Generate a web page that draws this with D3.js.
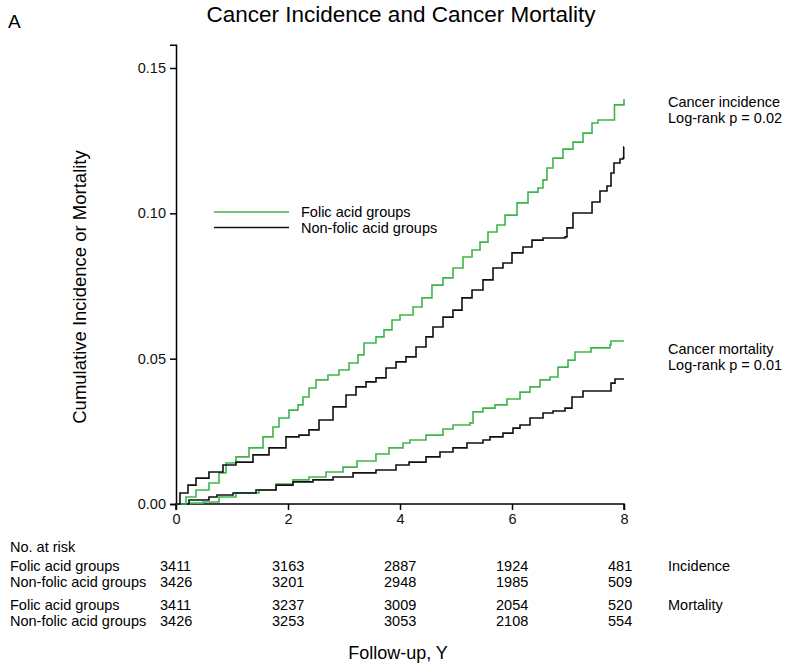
<!DOCTYPE html>
<html>
<head>
<meta charset="utf-8">
<script src="https://cdn.jsdelivr.net/npm/d3@7/dist/d3.min.js"></script>
<style>
  html, body { margin: 0; padding: 0; background: #fff; }
  svg { display: block; font-family: "Liberation Sans", Arial, sans-serif; }
</style>
</head>
<body>
<svg id="chart" width="788" height="667"></svg>
<script>
// Cumulative curves: [years, cumulative proportion]
const folicIncidence = [
  [0,0],[0.179,0.0024],[0.357,0.0048],[0.589,0.0072],[0.768,0.0107],[0.893,0.0141],
  [1.071,0.0162],[1.304,0.0193],[1.554,0.0231],[1.732,0.0265],[1.839,0.0296],[2.018,0.0323],
  [2.179,0.0341],[2.268,0.0368],[2.375,0.0399],[2.5,0.0427],[2.714,0.0444],[2.911,0.0461],
  [3.089,0.0485],[3.25,0.0513],[3.357,0.0554],[3.571,0.0575],[3.714,0.0599],[3.857,0.0633],
  [4.0,0.0650],[4.232,0.0678],[4.393,0.0709],[4.571,0.0753],[4.768,0.0778],[4.946,0.0812],
  [5.125,0.0850],[5.286,0.0874],[5.429,0.0901],[5.571,0.0936],[5.732,0.0960],[5.875,0.0994],
  [6.089,0.1036],[6.286,0.1073],[6.464,0.1087],[6.554,0.1115],[6.625,0.1156],[6.732,0.1190],
  [6.911,0.1221],[7.089,0.1245],[7.268,0.1276],[7.429,0.1311],[7.536,0.1321],[7.804,0.1321],
  [7.83,0.1373],[7.982,0.1373],[8,0.1393]
];
const nonFolicIncidence = [
  [0,0],[0.071,0.0038],[0.214,0.0065],[0.357,0.0089],[0.589,0.0110],[0.839,0.0134],
  [1.071,0.0144],[1.375,0.0169],[1.661,0.0193],[1.964,0.0231],[2.196,0.0237],[2.375,0.0255],
  [2.554,0.0289],[2.804,0.0334],[3.036,0.0375],[3.214,0.0403],[3.393,0.0420],[3.571,0.0434],
  [3.75,0.0468],[3.929,0.0489],[4.107,0.0506],[4.286,0.0540],[4.464,0.0575],[4.589,0.0609],
  [4.768,0.0643],[4.946,0.0667],[5.107,0.0709],[5.286,0.0736],[5.482,0.0771],[5.661,0.0812],
  [5.839,0.0829],[6.0,0.0864],[6.196,0.0884],[6.357,0.0908],[6.554,0.0915],[6.946,0.0919],
  [6.982,0.0950],[7.089,0.1001],[7.304,0.1001],[7.429,0.1039],[7.571,0.1077],[7.696,0.1094],
  [7.768,0.1139],[7.821,0.1173],[7.929,0.1187],[7.982,0.1190],[7.995,0.1228],[8,0.1228]
];
const folicMortality = [
  [0,0],[0.25,0.0003],[0.482,0.0007],[0.768,0.0024],[1.071,0.0038],[1.482,0.0048],
  [1.786,0.0069],[2.089,0.0083],[2.375,0.0093],[2.679,0.0110],[2.982,0.0127],[3.232,0.0148],
  [3.571,0.0172],[3.804,0.0193],[4.054,0.0210],[4.179,0.0220],[4.464,0.0237],[4.768,0.0258],
  [4.946,0.0272],[5.25,0.0279],[5.304,0.0317],[5.482,0.0330],[5.696,0.0341],[5.911,0.0361],
  [6.143,0.0385],[6.321,0.0403],[6.5,0.0427],[6.679,0.0437],[6.821,0.0471],[7.0,0.0495],
  [7.125,0.0523],[7.393,0.0523],[7.411,0.0537],[7.75,0.0547],[7.768,0.0561],[8,0.0561]
];
const nonFolicMortality = [
  [0,0],[0.232,0.0014],[0.589,0.0024],[0.732,0.0031],[1.018,0.0038],[1.429,0.0048],
  [1.786,0.0065],[2.089,0.0076],[2.446,0.0083],[2.804,0.0093],[3.161,0.0107],[3.571,0.0117],
  [3.929,0.0134],[4.161,0.0144],[4.464,0.0162],[4.714,0.0179],[4.946,0.0193],[5.196,0.0210],
  [5.482,0.0220],[5.607,0.0231],[5.839,0.0244],[6.018,0.0261],[6.143,0.0272],[6.321,0.0296],
  [6.554,0.0313],[6.732,0.0320],[6.946,0.0330],[7.071,0.0368],[7.268,0.0389],[7.714,0.0389],
  [7.768,0.0416],[7.839,0.0430],[8,0.0430]
];

const xTicks = [0, 2, 4, 6, 8];
const yTicks = [0, 0.05, 0.10, 0.15];
const groupNames = ["Folic acid groups", "Non-folic acid groups"];

// Numbers at risk at each x tick
const riskFolicIncidence = [3411, 3163, 2887, 1924, 481];
const riskNonFolicIncidence = [3426, 3201, 2948, 1985, 509];
const riskFolicMortality = [3411, 3237, 3009, 2054, 520];
const riskNonFolicMortality = [3426, 3253, 3053, 2108, 554];

const GREEN = "#3db54a";
const BLACK = "#111";

const svg = d3.select("#chart");
const x = d3.scaleLinear().domain([0, 8]).range([176, 624]);
const y = d3.scaleLinear().domain([0, 0.158]).range([504, 44.75]);

// Title and panel letter
svg.append("text").attr("x", 8).attr("y", 28).attr("font-size", 19).text("A");
svg.append("text").attr("x", 401).attr("y", 22).attr("text-anchor", "middle")
  .attr("font-size", 22.5).text("Cancer Incidence and Cancer Mortality");

// Axes
const xAxis = svg.append("g").attr("transform", "translate(0,504)")
  .call(d3.axisBottom(x).tickValues(xTicks).tickSize(6).tickPadding(4).tickFormat(d3.format("d")));
const yAxis = svg.append("g").attr("transform", "translate(176,0)")
  .call(d3.axisLeft(y).tickValues(yTicks).tickSize(6).tickPadding(4).tickFormat(d3.format(".2f")));
[xAxis, yAxis].forEach(g => {
  g.select(".domain").attr("stroke", "#000").attr("stroke-width", 1.5);
  g.selectAll(".tick line").attr("stroke", "#000").attr("stroke-width", 1.5);
  g.selectAll(".tick text").attr("font-size", 14.5).attr("fill", "#111")
    .attr("font-family", "Liberation Sans, Arial, sans-serif");
});
xAxis.select(".domain").attr("d", `M${x(0)},6V0H${x(8)}V6`);

// Axis titles
svg.append("text").attr("transform", "translate(86,287) rotate(-90)")
  .attr("text-anchor", "middle").attr("font-size", 18.5).text("Cumulative Incidence or Mortality");
svg.append("text").attr("x", 398).attr("y", 659).attr("text-anchor", "middle")
  .attr("font-size", 18).text("Follow-up, Y");

// Cumulative (step) curves
const line = d3.line().x(d => x(d[0])).y(d => y(d[1])).curve(d3.curveStepAfter);
const curves = [
  { data: folicMortality, color: GREEN },
  { data: nonFolicMortality, color: BLACK },
  { data: folicIncidence, color: GREEN },
  { data: nonFolicIncidence, color: BLACK }
];
svg.append("g").selectAll("path").data(curves).join("path")
  .attr("d", d => line(d.data)).attr("fill", "none")
  .attr("stroke", d => d.color).attr("stroke-width", 1.6);

// Legend
const legend = svg.append("g");
groupNames.forEach((name, i) => {
  const ly = 212 + i * 15.5;
  legend.append("line").attr("x1", 214).attr("x2", 289).attr("y1", ly).attr("y2", ly)
    .attr("stroke", i === 0 ? GREEN : BLACK).attr("stroke-width", 1.6);
  legend.append("text").attr("x", 301).attr("y", ly + 5).attr("font-size", 14.5).text(name);
});

// Right-hand annotations
const notes = [
  ["Cancer incidence", 107], ["Log-rank p = 0.02", 123],
  ["Cancer mortality", 354], ["Log-rank p = 0.01", 370]
];
svg.append("g").selectAll("text").data(notes).join("text")
  .attr("x", 668).attr("y", d => d[1]).attr("font-size", 14.5).text(d => d[0]);

// Numbers-at-risk table
const table = svg.append("g").attr("font-size", 14.5);
table.append("text").attr("x", 10).attr("y", 552).text("No. at risk");
const rows = [
  { label: groupNames[0], values: riskFolicIncidence, y: 571, tag: "Incidence" },
  { label: groupNames[1], values: riskNonFolicIncidence, y: 587, tag: "" },
  { label: groupNames[0], values: riskFolicMortality, y: 610, tag: "Mortality" },
  { label: groupNames[1], values: riskNonFolicMortality, y: 626, tag: "" }
];
rows.forEach(r => {
  table.append("text").attr("x", 10).attr("y", r.y).text(r.label);
  r.values.forEach((v, i) => {
    table.append("text").attr("x", x(xTicks[i]) - 16).attr("y", r.y).text(v);
  });
  if (r.tag) table.append("text").attr("x", 668).attr("y", r.y).text(r.tag);
});
</script>
</body>
</html>
